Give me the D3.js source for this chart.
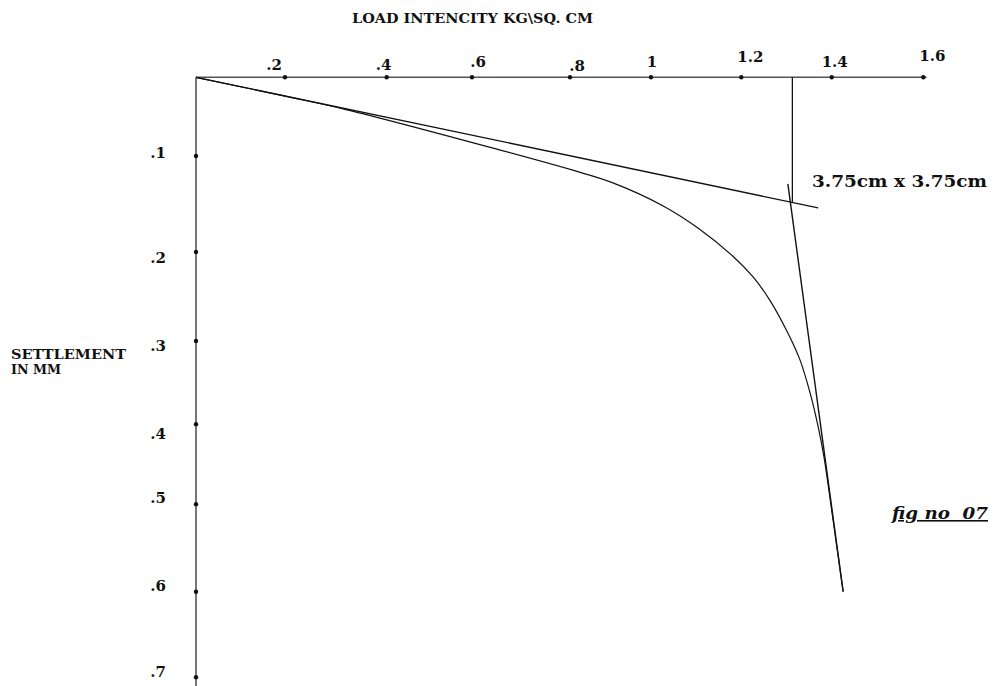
<!DOCTYPE html>
<html>
<head>
<meta charset="utf-8">
<script src="https://cdn.jsdelivr.net/npm/d3@7"></script>
<style>
body{margin:0;background:#fff;}
text{font-family:"DejaVu Serif","Liberation Serif",serif;font-weight:bold;fill:#111;}
</style>
</head>
<body>
<div id="chart"></div>
<script>
// load intensity (kg/sq cm) vs settlement (mm)
var xTicks=[0.2,0.4,0.6,0.8,1,1.2,1.4,1.6];
var xTickLabels=[".2",".4",".6",".8","1","1.2","1.4","1.6"];
var yTicks=[0.1,0.2,0.3,0.4,0.5,0.6,0.7];
var yTickLabels=[".1",".2",".3",".4",".5",".6",".7"];

var loadVals  =[0,0.2,0.32,0.649,0.825,0.906,1.027,1.104,1.182,1.226,1.263,1.303,1.330,1.352,1.370,1.383,1.403,1.425];
var settleVals=[0,0.024,0.041,0.091,0.117,0.128,0.152,0.175,0.205,0.228,0.254,0.291,0.323,0.362,0.403,0.441,0.518,0.600];

// construction lines
var tangent1Load=[0,1.370],  tangent1Settle=[0,0.154];
var tangent2Load=[1.303,1.425], tangent2Settle=[0.129,0.600];
var yieldLoad=[1.313,1.313], yieldSettle=[0,0.149];

var W=994,H=686;
var svg=d3.select("#chart").append("svg").attr("width",W).attr("height",H);

// hand drawn axes: tick spacing is uneven, so piecewise scales
var x=d3.scaleLinear().domain([0].concat(xTicks)).range([196,285,386.7,472,570,651,741.3,831.7,923.3]);
var y=d3.scaleLinear().domain([0].concat(yTicks)).range([77.3,156,252,341,424.3,504.3,591.7,677.3]);

// label nudges (px) to sit like the drawing
var xLabDx=[-11,-3,6,7,1,9,3,9], xLabDy=[-7,-7,-10,-6,-10,-15,-10,-16];
var yLabDy=[2,11,10,15,-1,-1,0];

// axes
svg.append("line").attr("x1",x(0)).attr("y1",y(0)).attr("x2",x(1.607)).attr("y2",y(0))
  .attr("stroke","#555").attr("stroke-width",1.6);
svg.append("line").attr("x1",x(0)).attr("y1",y(0)).attr("x2",x(0)).attr("y2",H)
  .attr("stroke","#555").attr("stroke-width",1.6);

svg.selectAll(".xt").data(xTicks).enter().append("circle")
  .attr("cx",function(d){return x(d);}).attr("cy",y(0)).attr("r",2.2).attr("fill","#111");
svg.selectAll(".yt").data(yTicks).enter().append("circle")
  .attr("cx",x(0)).attr("cy",function(d){return y(d);}).attr("r",2.2).attr("fill","#111");

svg.selectAll(".xl").data(xTicks).enter().append("text")
  .attr("x",function(d,i){return x(d)+xLabDx[i];})
  .attr("y",function(d,i){return y(0)+xLabDy[i];})
  .attr("text-anchor","middle").attr("font-size",15)
  .text(function(d,i){return xTickLabels[i];});
svg.selectAll(".yl").data(yTicks).enter().append("text")
  .attr("x",166)
  .attr("y",function(d,i){return y(d)+yLabDy[i];})
  .attr("text-anchor","end").attr("font-size",15)
  .text(function(d,i){return yTickLabels[i];});

// titles
svg.append("text").attr("x",352).attr("y",23).attr("font-size",12.5)
  .attr("textLength",241).attr("lengthAdjust","spacingAndGlyphs")
  .text("LOAD INTENCITY KG\\SQ. CM");
svg.append("text").attr("x",11).attr("y",359).attr("font-size",12.5)
  .attr("textLength",115).attr("lengthAdjust","spacingAndGlyphs").text("SETTLEMENT");
svg.append("text").attr("x",11).attr("y",374).attr("font-size",12.5)
  .attr("textLength",50).attr("lengthAdjust","spacingAndGlyphs").text("IN MM");

// curve
var pts=loadVals.map(function(d,i){return [d,settleVals[i]];});
var line=d3.line().x(function(d){return x(d[0]);}).y(function(d){return y(d[1]);});
svg.append("path").datum(pts).attr("d",line.curve(d3.curveCatmullRom.alpha(0.5)))
  .attr("fill","none").attr("stroke","#111").attr("stroke-width",1.2);

function seg(lx,ly,w){
  svg.append("line").attr("x1",x(lx[0])).attr("y1",y(ly[0])).attr("x2",x(lx[1])).attr("y2",y(ly[1]))
    .attr("stroke","#111").attr("stroke-width",w);
}
seg(tangent1Load,tangent1Settle,1.3);
seg(tangent2Load,tangent2Settle,1.4);
seg(yieldLoad,yieldSettle,1.3);

svg.append("text").attr("x",812).attr("y",187).attr("font-size",16)
  .attr("textLength",175).attr("lengthAdjust","spacingAndGlyphs").text("3.75cm x 3.75cm");
svg.append("text").attr("x",892).attr("y",519).attr("font-size",16)
  .attr("font-style","italic").attr("text-decoration","underline")
  .style("white-space","pre")
  .attr("textLength",96).attr("lengthAdjust","spacingAndGlyphs").text("fig no  07");
</script>
</body>
</html>
